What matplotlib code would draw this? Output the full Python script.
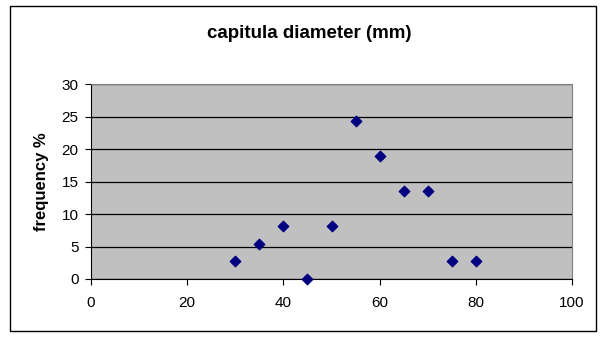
import matplotlib
matplotlib.use("Agg")
import matplotlib.pyplot as plt
from matplotlib.patches import Rectangle

diameter = [30, 35, 40, 45, 50, 55, 60, 65, 70, 75, 80]
frequency = [2.7, 5.4, 8.1, 0.0, 8.1, 24.3, 18.9, 13.5, 13.5, 2.7, 2.7]
x_ticks = [0, 20, 40, 60, 80, 100]
y_ticks = [0, 5, 10, 15, 20, 25, 30]

plt.rcParams['font.family'] = ['Liberation Sans', 'DejaVu Sans']

fig = plt.figure(figsize=(6, 3.38), dpi=100)
fig.patches.append(Rectangle((10/600, 1-331/338), 586/600, 325/338, transform=fig.transFigure,
                             fill=False, edgecolor='black', linewidth=1.0))
ax = fig.add_axes([91/600, 1-279/338, 481/600, 195/338])
ax.set_facecolor('#C0C0C0')
ax.set_xlim(0, 100)
ax.set_ylim(0, 30)
ax.set_xticks(x_ticks)
ax.set_yticks(y_ticks)
ax.yaxis.grid(True, color='black', linewidth=0.9)
ax.set_axisbelow(True)
for s in ['top', 'right']:
    ax.spines[s].set_color('#808080')
for s in ['left', 'bottom']:
    ax.spines[s].set_color('black')
ax.tick_params(direction='out', length=4, labelsize=11, colors='black')
ax.tick_params(axis='x', pad=8)
ax.tick_params(axis='y', pad=5)
ax.scatter(diameter, frequency, marker='D', s=28, color='#000080', zorder=3, clip_on=False)
ax.set_ylabel('frequency %', fontsize=12, fontweight='bold')
ax.yaxis.set_label_coords((49 - 91) / 481, 0.5)
fig.text(309/600, 1-34/338, 'capitula diameter (mm)', ha='center', va='center',
         fontsize=13.5, fontweight='bold')
fig.savefig('out.png', dpi=100)
